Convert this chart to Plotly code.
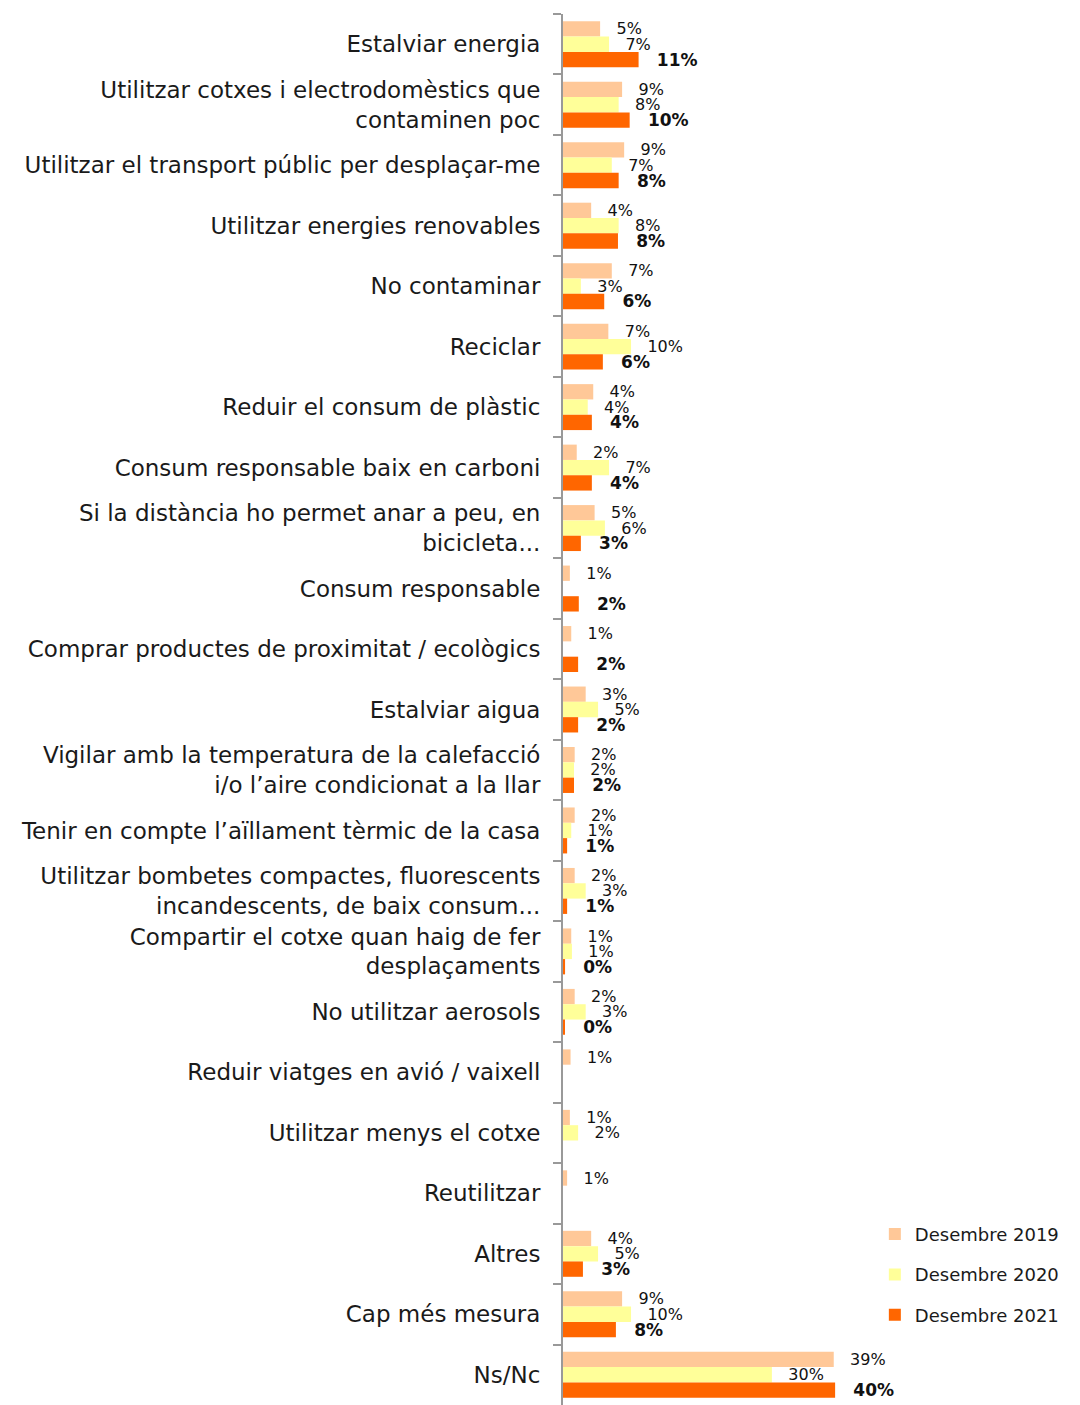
import plotly.graph_objects as go

categories = [
    "Estalviar energia",
    "Utilitzar cotxes i electrodomèstics que<br>contaminen poc",
    "Utilitzar el transport públic per desplaçar-me",
    "Utilitzar energies renovables",
    "No contaminar",
    "Reciclar",
    "Reduir el consum de plàstic",
    "Consum responsable baix en carboni",
    "Si la distància ho permet anar a peu, en<br>bicicleta...",
    "Consum responsable",
    "Comprar productes de proximitat / ecològics",
    "Estalviar aigua",
    "Vigilar amb la temperatura de la calefacció<br>i/o l’aire condicionat a la llar",
    "Tenir en compte l’aïllament tèrmic de la casa",
    "Utilitzar bombetes compactes, fluorescents<br>incandescents, de baix consum...",
    "Compartir el cotxe quan haig de fer<br>desplaçaments",
    "No utilitzar aerosols",
    "Reduir viatges en avió / vaixell",
    "Utilitzar menys el cotxe",
    "Reutilitzar",
    "Altres",
    "Cap més mesura",
    "Ns/Nc",
]

dec_2019 = [5.4, 8.6, 8.9, 4.1, 7.1, 6.6, 4.4, 2.0, 4.6, 1.0, 1.2, 3.3, 1.7,
            1.7, 1.7, 1.2, 1.7, 1.1, 1.0, 0.6, 4.1, 8.6, 39.4]
dec_2020 = [6.7, 8.1, 7.1, 8.1, 2.6, 9.9, 3.6, 6.7, 6.1, None, None, 5.1, 1.6,
            1.2, 3.3, 1.3, 3.3, None, 2.2, None, 5.1, 9.9, 30.4]
dec_2021 = [11.0, 9.7, 8.1, 8.0, 6.0, 5.8, 4.2, 4.2, 2.6, 2.3, 2.2, 2.2, 1.6,
            0.6, 0.6, 0.3, 0.2, None, None, None, 2.9, 7.7, 39.6]

series = [
    ("Desembre 2019", dec_2019, "#FFC898", "normal", 16),
    ("Desembre 2020", dec_2020, "#FFFF99", "normal", 16),
    ("Desembre 2021", dec_2021, "#FF6600", "bold", 17),
]

FONT = "DejaVu Sans"

fig = go.Figure()

for name, values, color, weight, size in series:
    fig.add_trace(go.Bar(
        name=name,
        legendgroup=name,
        y=categories,
        x=values,
        orientation="h",
        marker=dict(color=color, line=dict(width=0)),
        texttemplate="\u00a0\u00a0\u2009%{x:.0f}%",
        textposition="outside",
        textfont=dict(family=FONT, size=size, color="#111111", weight=weight),
        cliponaxis=False,
        constraintext="none",
        hoverinfo="skip",
    ))

# the page body adds an 8px offset, margins are shifted to compensate
fig.update_layout(
    width=1080,
    height=1397,
    barmode="group",
    bargap=0.24,
    bargroupgap=0,
    plot_bgcolor="white",
    paper_bgcolor="white",
    font=dict(family=FONT, size=23, color="#1a1a1a"),
    margin=dict(l=555, r=0, t=6, b=0),
    showlegend=True,
    legend=dict(
        x=0.594,
        y=0.136,
        xanchor="left",
        yanchor="top",
        font=dict(size=18, family=FONT, color="#1a1a1a"),
        itemwidth=30,
        tracegroupgap=14,
        bgcolor="rgba(0,0,0,0)",
    ),
    xaxis=dict(
        range=[0, 76.4],
        visible=False,
        showgrid=False,
        zeroline=False,
        automargin=False,
    ),
    yaxis=dict(
        autorange="reversed",
        automargin=False,
        showline=True,
        linecolor="#999999",
        linewidth=2,
        ticks="outside",
        tickson="boundaries",
        ticklen=8,
        tickwidth=2,
        tickcolor="#999999",
        ticklabelstandoff=16,
        showgrid=False,
        tickfont=dict(family=FONT, size=23, color="#1a1a1a"),
    ),
)

fig.write_html("out.html")
